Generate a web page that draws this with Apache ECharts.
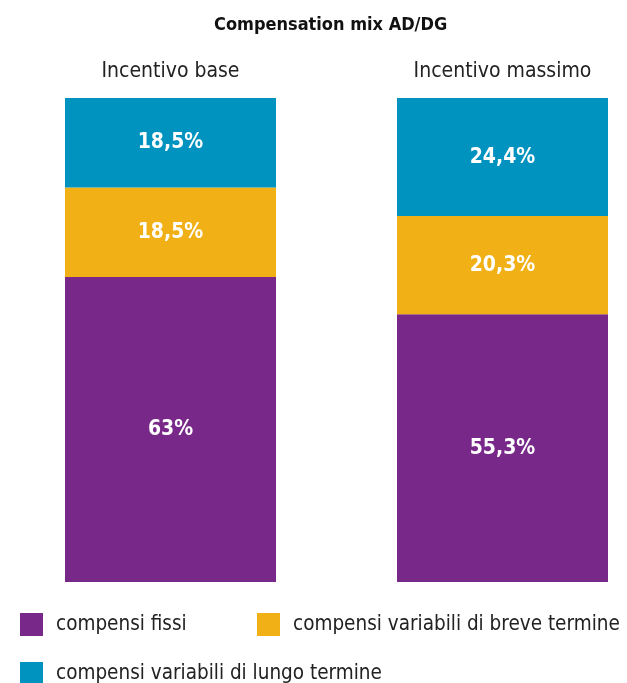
<!DOCTYPE html>
<html>
<head>
<meta charset="utf-8">
<script src="https://cdn.jsdelivr.net/npm/echarts@6/dist/echarts.min.js"></script>
<style>
  html, body { margin: 0; padding: 0; background: #fff; }
  #chart { width: 627px; height: 683px; }
</style>
</head>
<body>
<div id="chart"></div>
<script>
const categories = ['Incentivo base', 'Incentivo massimo']
const seriesNames = ['compensi fissi', 'compensi variabili di breve termine', 'compensi variabili di lungo termine']
const fissi = [63, 55.3]
const breve = [18.5, 20.3]
const lungo = [18.5, 24.4]
const colors = ['#772889', '#f0b016', '#0093bf']

const FONT = "'Liberation Sans Narrow', 'DejaVu Sans Condensed', sans-serif"

const chart = echarts.init(document.getElementById('chart'))

function fmt(p) {
  return String(p.value).replace('.', ',') + '%'
}

const values = [fissi, breve, lungo]
const series = seriesNames.map((name, i) => ({
  name,
  type: 'bar',
  stack: 'mix',
  barWidth: 211,
  data: values[i],
  itemStyle: { color: colors[i] },
  label: {
    show: true,
    position: 'inside',
    formatter: fmt,
    color: '#fff',
    fontFamily: FONT,
    fontWeight: 'bold',
    fontSize: 21,
  },
}))

const legendText = { fontFamily: FONT, fontSize: 20.5, color: '#222', padding: [0, 0, 0, 8] }
const legendBase = { itemWidth: 23, itemHeight: 23, icon: 'rect', padding: 0, textStyle: legendText }

chart.setOption({
  animation: false,
  title: {
    text: 'Compensation mix AD/DG',
    left: 214,
    top: 16,
    padding: 0,
    textStyle: { fontFamily: FONT, fontSize: 18, fontWeight: 'bold', color: '#111' },
  },
  legend: [
    Object.assign({ data: [seriesNames[0]], left: 20, top: 613 }, legendBase),
    Object.assign({ data: [seriesNames[1]], left: 257, top: 613 }, legendBase),
    Object.assign({ data: [seriesNames[2]], left: 20, top: 662 }, legendBase),
  ],
  // ticks sit on the grid edges so bar centres land where the reference has them
  grid: { left: 170.5, width: 332, top: 98, height: 484 },
  xAxis: {
    type: 'category',
    position: 'top',
    boundaryGap: false,
    data: categories,
    axisLine: { show: false },
    axisTick: { show: false },
    axisLabel: { fontFamily: FONT, fontSize: 21, color: '#222', margin: 16 },
  },
  yAxis: { type: 'value', min: 0, max: 100, show: false },
  series,
})
</script>
</body>
</html>
